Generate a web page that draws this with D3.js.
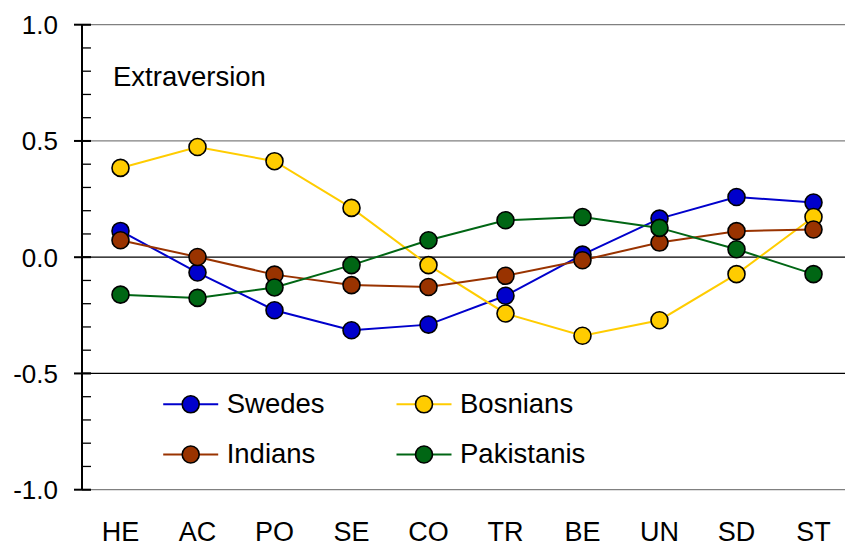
<!DOCTYPE html>
<html><head><meta charset="utf-8">
<script src="https://cdn.jsdelivr.net/npm/d3@7"></script>
<style>body{margin:0;background:#fff}svg{display:block;font-family:"Liberation Sans",Arial,sans-serif}</style>
</head><body><svg id="c" width="845" height="547"></svg>
<script>
const categories = ["HE","AC","PO","SE","CO","TR","BE","UN","SD","ST"];
const swedes     = [0.113,-0.066,-0.228,-0.314,-0.290,-0.166,0.011,0.166,0.259,0.235];
const bosnians   = [0.384,0.474,0.413,0.212,-0.034,-0.242,-0.338,-0.271,-0.073,0.173];
const indians    = [0.073,0.001,-0.075,-0.120,-0.128,-0.080,-0.013,0.063,0.112,0.119];
const pakistanis = [-0.161,-0.175,-0.130,-0.034,0.073,0.159,0.173,0.126,0.034,-0.073];
const seriesNames = ["Swedes","Bosnians","Indians","Pakistanis"];
const seriesColors = ["#0000cc","#ffcc00","#993300","#006614"];
const yTicks = [1.0,0.5,0.0,-0.5,-1.0];
const title = "Extraversion";

(function(){
const series = [swedes,bosnians,indians,pakistanis].map((v,i)=>({name:seriesNames[i],color:seriesColors[i],values:v}));
const svg = d3.select("#c");
const L=82, R=852, T=24.7, B=489.7;
const x = d3.scalePoint().domain(categories).range([L,R]).padding(0.5);
const y = d3.scaleLinear().domain([-1,1]).range([B,T]);

const gridColor = {"1":"#808080","0.5":"#808080","0":"#000","-0.5":"#000","-1":"#808080"};
svg.append("g").selectAll("line").data(yTicks).join("line")
  .attr("x1",L).attr("x2",845).attr("y1",d=>y(d)).attr("y2",d=>y(d))
  .attr("stroke",d=>gridColor[String(d)]).attr("stroke-width",1.3);

const minor = d3.range(-10,11).map(d=>d/10);
const ax = svg.append("g");
ax.append("line").attr("x1",L).attr("x2",L).attr("y1",y(1)).attr("y2",y(-1)).attr("stroke","#000").attr("stroke-width",2);
ax.selectAll(".mn").data(minor).join("line").attr("class","mn")
  .attr("x1",L).attr("x2",L+9).attr("y1",d=>y(d)).attr("y2",d=>y(d)).attr("stroke","#000").attr("stroke-width",1.3);
ax.selectAll(".mj").data(yTicks).join("line").attr("class","mj")
  .attr("x1",L-8).attr("x2",L+9).attr("y1",d=>y(d)).attr("y2",d=>y(d)).attr("stroke","#000").attr("stroke-width",2);
ax.selectAll("text").data(yTicks).join("text")
  .attr("x",58).attr("y",d=>y(d)).attr("dy","0.36em").attr("text-anchor","end")
  .attr("font-size",26).text(d=>d3.format(".1f")(d).replace("−","-"));

svg.append("g").selectAll("text").data(categories).join("text")
  .attr("x",d=>x(d)).attr("y",541).attr("text-anchor","middle").attr("font-size",27).text(d=>d);

svg.append("text").attr("x",113).attr("y",86).attr("font-size",27.5).text(title);

const line = d3.line().x((d,i)=>x(categories[i])).y(d=>y(d));
series.forEach(s=>{
  svg.append("path").attr("d",line(s.values)).attr("fill","none").attr("stroke",s.color).attr("stroke-width",2);
});
series.forEach(s=>{
  svg.append("g").selectAll("circle").data(s.values).join("circle")
    .attr("cx",(d,i)=>x(categories[i])).attr("cy",d=>y(d)).attr("r",8.5)
    .attr("fill",s.color).attr("stroke","#000").attr("stroke-width",1.6);
});

const legPos = [[190.7,404.3],[424,404.3],[190.7,454.5],[424,454.5]];
series.forEach((s,i)=>{
  const [cx,cy]=legPos[i];
  const g=svg.append("g");
  g.append("line").attr("x1",cx-27.5).attr("x2",cx+27.5).attr("y1",cy).attr("y2",cy).attr("stroke",s.color).attr("stroke-width",2);
  g.append("circle").attr("cx",cx).attr("cy",cy).attr("r",8.5).attr("fill",s.color).attr("stroke","#000").attr("stroke-width",1.6);
  g.append("text").attr("x",cx+36).attr("y",cy-1).attr("dy","0.36em").attr("font-size",27.5).text(s.name);
});
})();
</script></body></html>
